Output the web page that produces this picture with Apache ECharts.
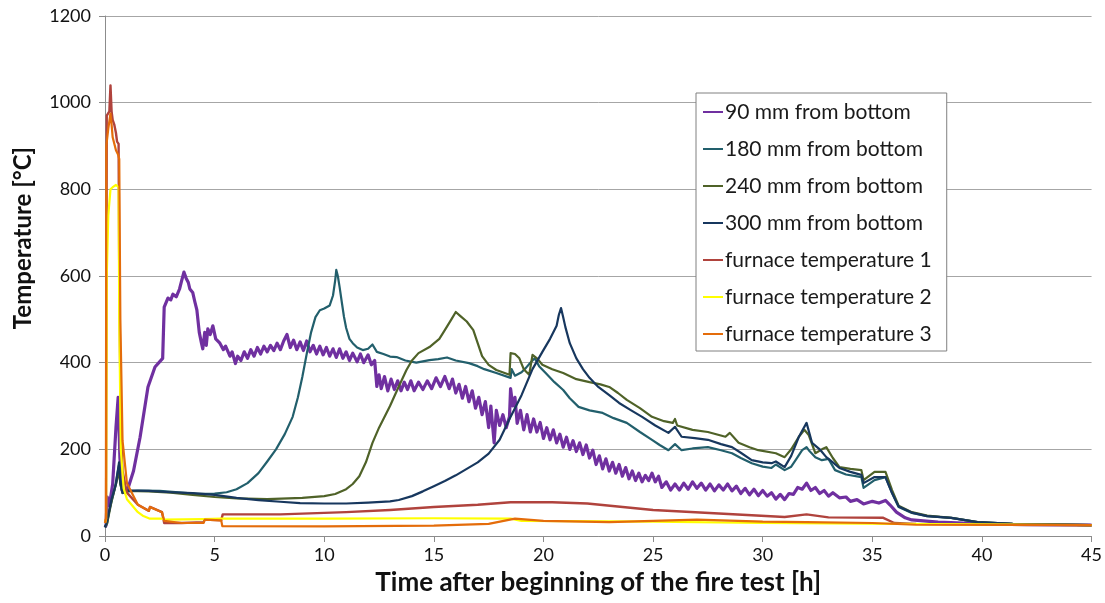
<!DOCTYPE html>
<html>
<head>
<meta charset="utf-8">
<title>Fire test temperatures</title>
<script src="https://cdn.jsdelivr.net/npm/echarts@6/dist/echarts.min.js"></script>
<style>
  html, body { margin: 0; padding: 0; background: #fff; }
  #chart { width: 1105px; height: 603px; }
</style>
</head>
<body>
<div id="chart"></div>
<script>
// series names (legend order)
var names = ['90 mm from bottom', '180 mm from bottom', '240 mm from bottom', '300 mm from bottom',
  'furnace temperature 1', 'furnace temperature 2', 'furnace temperature 3'];

// [time h, temperature °C] (upper/lower edge of the noisy band where it is wide)
var s90 = [[0,20],[0.05,25],[0.1,90],[0.2,70],[0.35,120],[0.5,250],[0.6,320],[0.68,180],[0.78,105],[0.9,100],
  [1.05,110],[1.3,150],[1.6,228],[1.96,344],[2.28,390],[2.63,410],[2.7,528],[2.87,549],[3.0,545],[3.1,558],
  [3.25,552],[3.4,570],[3.5,590],[3.6,609],[3.7,595],[3.8,585],[3.87,570],[4.0,562],[4.1,540],[4.19,522],
  [4.3,470],[4.4,445],[4.46,432],[4.55,470],[4.62,440],[4.69,478],[4.8,465],[4.92,485],[5.05,455],[5.24,445],
  [5.4,430],[5.5,438],[5.7,415],[5.8,425],[5.95,398],[6.05,415],[6.2,405],[6.35,425],[6.5,410],[6.65,430],
  [6.8,415],[6.95,435],[7.1,420],[7.25,438],[7.4,425],[7.55,440],[7.7,428],[7.85,445],[8.0,430],[8.15,450],
  [8.3,465],[8.45,435],[8.6,452],[8.75,430],[8.9,448],[9.05,428],[9.2,450],[9.35,425],[9.5,440],[9.65,420],
  [9.8,438],[9.95,418],[10.1,435],[10.25,415],[10.4,432],[10.55,412],[10.7,432],[10.85,410],[11.0,425],[11.15,405],
  [11.3,422],[11.5,402],[11.65,420],[11.8,400],[12.0,418],[12.15,395],[12.3,405],[12.4,345],[12.5,372],[12.6,340],
  [12.75,368],[12.9,335],[13.05,362],[13.2,338],[13.35,358],[13.5,335],[13.65,355],[13.8,338],[13.95,358],[14.1,335],
  [14.3,355],[14.5,338],[14.7,358],[14.9,340],[15.1,365],[15.3,345],[15.5,368],[15.7,340],[15.85,362],[16.0,330],
  [16.15,350],[16.3,318],[16.45,345],[16.6,310],[16.75,335],[16.9,295],[17.05,320],[17.2,280],[17.35,310],[17.5,250],
  [17.6,300],[17.75,215],[17.85,290],[18.0,255],[18.15,280],[18.3,250],[18.45,275],[18.5,340],[18.6,300],[18.7,320],
  [18.8,260],[18.95,290],[19.1,245],[19.25,280],[19.4,240],[19.55,270],[19.7,240],[19.85,262],[20.0,225],[20.15,250],
  [20.3,222],[20.45,245],[20.6,215],[20.75,235],[20.9,205],[21.05,228],[21.2,200],[21.35,220],[21.5,195],[21.65,215],
  [21.8,188],[21.95,210],[22.1,180],[22.25,198],[22.4,165],[22.55,185],[22.7,155],[22.85,178],[23.0,150],[23.15,170],
  [23.3,145],[23.45,165],[23.6,138],[23.75,158],[23.9,132],[24.05,150],[24.2,128],[24.35,145],[24.5,125],[24.65,140],
  [24.8,128],[24.95,145],[25.1,125],[25.25,138],[25.4,112],[25.6,125],[25.8,106],[26.0,120],[26.2,106],[26.4,122],
  [26.6,108],[26.8,125],[27.0,110],[27.2,122],[27.4,106],[27.6,120],[27.8,104],[28.0,118],[28.2,106],[28.4,120],
  [28.6,104],[28.8,115],[29.0,98],[29.2,110],[29.4,95],[29.6,108],[29.8,93],[30.0,105],[30.2,92],[30.4,100],
  [30.6,85],[30.8,96],[31.0,84],[31.2,98],[31.4,96],[31.6,112],[31.8,108],[32.0,122],[32.2,105],[32.4,112],
  [32.6,98],[32.8,105],[33.0,92],[33.2,100],[33.5,88],[33.8,90],[34.0,80],[34.3,84],[34.6,74],[35.0,80],
  [35.3,76],[35.6,82],[35.8,72],[36.1,55],[36.5,42],[36.8,37],[38,32],[40,28],[42,26],[45,25]];

var s180 = [[0,20],[0.1,30],[0.2,60],[0.3,80],[0.45,110],[0.55,140],[0.64,164],[0.7,120],[0.8,99],[1.0,103],
  [1.5,105],[2.5,104],[3.5,100],[4.2,97],[5.0,98],[5.55,101],[6.0,108],[6.5,122],[7.0,145],[7.4,172],
  [7.8,200],[8.2,235],[8.56,275],[8.8,320],[9.0,367],[9.2,420],[9.4,470],[9.6,505],[9.8,521],[10.0,525],
  [10.25,532],[10.4,555],[10.5,590],[10.55,614],[10.62,600],[10.7,575],[10.8,540],[10.9,506],[11.0,480],[11.15,455],
  [11.3,445],[11.5,435],[11.76,429],[12.0,432],[12.2,442],[12.4,425],[12.7,420],[13.0,414],[13.3,413],[13.7,405],
  [14.2,400],[14.5,403],[14.8,406],[15.2,408],[15.6,412],[16.0,405],[16.6,399],[17.0,392],[17.3,385],[17.85,376],
  [18.5,365],[18.55,385],[18.7,370],[19.0,378],[19.2,388],[19.4,400],[19.6,410],[19.8,392],[20.1,376],[20.5,355],
  [20.9,337],[21.2,318],[21.6,298],[22.1,290],[22.7,284],[23.2,272],[23.8,261],[24.4,240],[24.95,222],[25.3,210],
  [25.7,198],[26.0,212],[26.3,198],[26.8,202],[27.5,205],[28.1,198],[28.6,191],[29.0,180],[29.5,168],[30.0,160],
  [30.4,157],[30.6,165],[31.0,152],[31.3,160],[31.5,175],[31.8,198],[32.0,205],[32.1,198],[32.4,182],[32.7,175],
  [33.0,178],[33.3,152],[33.8,142],[34.5,136],[34.6,111],[35.1,129],[35.6,136],[35.9,99],[36.2,67],[36.8,53],
  [37.5,46],[38.6,42],[39.8,32],[41.4,28],[45,25]];

var s240 = [[0,20],[0.1,30],[0.3,80],[0.55,130],[0.64,150],[0.7,120],[0.8,100],[1.0,104],[2,103],[3,100],
  [4,95],[5,90],[6,87],[7.4,85],[9,88],[10,92],[10.5,97],[11.0,108],[11.3,120],[11.6,138],
  [11.9,170],[12.2,215],[12.5,250],[13.0,300],[13.4,345],[13.75,383],[14.0,405],[14.3,422],[14.8,436],[15.25,455],
  [15.5,475],[15.8,500],[16.0,517],[16.2,508],[16.5,495],[16.8,475],[17.0,445],[17.2,415],[17.5,395],[17.85,383],
  [18.45,372],[18.5,422],[18.7,420],[18.9,410],[19.1,385],[19.35,372],[19.5,418],[19.7,410],[19.95,395],[20.4,385],
  [20.9,376],[21.5,362],[22.1,355],[22.6,350],[23.0,344],[23.4,330],[23.8,314],[24.4,295],[24.95,275],[25.5,265],
  [25.9,261],[26.0,270],[26.1,255],[26.8,245],[27.5,240],[28.3,229],[28.5,238],[28.9,215],[29.4,205],[29.8,198],
  [30.6,191],[31.0,182],[31.3,200],[31.65,229],[31.9,245],[32.1,233],[32.4,191],[32.7,200],[32.9,205],[33.2,180],
  [33.5,159],[34.0,155],[34.5,152],[34.6,129],[35.1,148],[35.6,148],[35.9,106],[36.2,70],[36.8,55],[37.5,47],
  [38.6,42],[39.8,32],[41.4,28],[45,25]];

var s300 = [[0,20],[0.1,35],[0.3,85],[0.5,120],[0.64,170],[0.7,125],[0.8,100],[1.0,105],[2,104],[3,101],
  [4,99],[5,95],[6,88],[7,83],[8,79],[8.9,76],[10,75],[11,75],[12,77],[13,80],
  [13.4,83],[14,92],[14.5,103],[15,115],[15.5,127],[16,140],[16.5,155],[17,170],[17.5,190],[18.0,222],
  [18.45,270],[19.0,325],[19.5,385],[19.95,425],[20.3,455],[20.6,485],[20.7,510],[20.8,526],[20.9,505],[21.0,482],
  [21.2,445],[21.5,410],[21.8,385],[22.1,365],[22.5,344],[23.0,325],[23.45,307],[24.0,290],[24.5,275],[25.1,255],
  [25.7,238],[26.0,252],[26.3,229],[26.9,226],[27.5,222],[28.1,212],[28.6,205],[29.0,192],[29.5,175],[30.0,170],
  [30.4,168],[30.6,172],[31.0,159],[31.3,185],[31.65,229],[32.0,261],[32.25,215],[32.6,200],[32.9,182],[33.2,170],
  [33.5,157],[34.0,148],[34.5,141],[34.6,122],[35.1,136],[35.6,136],[35.9,99],[36.2,68],[36.8,54],[37.5,46],
  [38.6,42],[39.8,32],[41.4,28],[45,25]];

var sF1 = [[0,30],[0.05,40],[0.08,970],[0.2,980],[0.25,1040],[0.3,980],[0.35,960],[0.42,950],[0.5,930],[0.55,910],
  [0.62,905],[0.65,600],[0.72,250],[0.8,150],[1.0,100],[1.5,72],[2.0,58],[2.05,67],[2.6,55],[2.7,30],
  [3.5,30],[4.5,32],[4.55,38],[5.3,36],[5.37,50],[8,50],[11,55],[13,60],[15,67],[17,72],
  [18.5,78],[20.4,78],[22,75],[25,60],[28,52],[31,44],[32,50],[33,43],[35.5,42],[36,30],
  [37,28],[45,25]];

var sF2 = [[0,30],[0.05,40],[0.08,600],[0.15,740],[0.25,800],[0.35,805],[0.5,810],[0.62,805],[0.65,500],[0.72,200],
  [0.85,110],[1.0,85],[1.5,55],[1.75,46],[2.05,40],[2.6,40],[2.7,38],[4.5,39],[5.3,40],[10,40],
  [15,41],[18.5,40],[19,35],[25,33],[30,30],[36,28],[45,25]];

var sF3 = [[0,30],[0.04,40],[0.06,900],[0.15,940],[0.25,975],[0.3,950],[0.35,920],[0.5,890],[0.6,880],[0.65,870],
  [0.7,500],[0.8,220],[1.0,122],[1.5,72],[2.0,58],[2.05,67],[2.6,55],[2.7,35],[3.5,30],[4.5,30],
  [4.55,38],[5.3,36],[5.35,23],[10,22],[15,24],[17.5,28],[18.7,40],[20,35],[23,32],[27,38],
  [30,33],[32,32],[35,30],[37,26],[45,25]];

var allData = [s90, s180, s240, s300, sF1, sF2, sF3];
var colors = ['#7030A0', '#225F6C', '#4F6228', '#17375E', '#B0433D', '#FFFF00', '#E46C0A'];
var widths = [3.2, 2.2, 2.2, 2.2, 2.4, 2.2, 2.2];

var chart = echarts.init(document.getElementById('chart'));
var fontFam = 'Lato, "DejaVu Sans", sans-serif';

var series = [];
for (var i = 0; i < names.length; i++) {
  series.push({
    name: names[i],
    type: 'line',
    data: allData[i],
    showSymbol: false,
    symbol: 'none',
    animation: false,
    lineStyle: { width: widths[i], color: colors[i], join: 'round' },
    itemStyle: { color: colors[i] }
  });
}

var option = {
  backgroundColor: '#fff',
  animation: false,
  color: colors,
  grid: { left: 105, right: 12, top: 16, bottom: 67, containLabel: false },
  legend: {
    orient: 'vertical',
    left: 696,
    top: 93,
    padding: [8, 15, 6, 7],
    itemGap: 15,
    itemWidth: 20,
    itemHeight: 2,
    icon: 'rect',
    backgroundColor: '#fff',
    borderColor: '#808080',
    borderWidth: 1,
    borderRadius: 0,
    data: names,
    textStyle: { fontFamily: fontFam, fontSize: 21, color: '#1a1a1a', lineHeight: 22, padding: [0, 0, 0, -3] }
  },
  xAxis: {
    type: 'value',
    min: 0,
    max: 45,
    interval: 5,
    name: 'Time after beginning of the fire test [h]',
    nameLocation: 'middle',
    nameGap: 34,
    nameTextStyle: { fontFamily: fontFam, fontSize: 26, fontWeight: 'bold', color: '#111' },
    axisLine: { show: true, lineStyle: { color: '#8c8c8c', width: 1 } },
    axisTick: { show: true, length: 6, lineStyle: { color: '#8c8c8c' } },
    axisLabel: { fontFamily: fontFam, fontSize: 18, color: '#111', margin: 10 },
    splitLine: { show: false }
  },
  yAxis: {
    type: 'value',
    min: 0,
    max: 1200,
    interval: 200,
    name: 'Temperature [°C]',
    nameLocation: 'middle',
    nameGap: 70,
    nameRotate: 90,
    nameTextStyle: { fontFamily: fontFam, fontSize: 24, fontWeight: 'bold', color: '#111', padding: [0, 0, 0, 76] },
    axisLine: { show: true, lineStyle: { color: '#8c8c8c', width: 1 } },
    axisTick: { show: true, length: 6, lineStyle: { color: '#8c8c8c' } },
    axisLabel: {
      fontFamily: fontFam, fontSize: 18, color: '#111', margin: 14,
      formatter: function (v) { return String(v); }
    },
    splitLine: { show: true, lineStyle: { color: '#a6a6a6', width: 1 } }
  },
  series: series
};

chart.setOption(option);
</script>
</body>
</html>
